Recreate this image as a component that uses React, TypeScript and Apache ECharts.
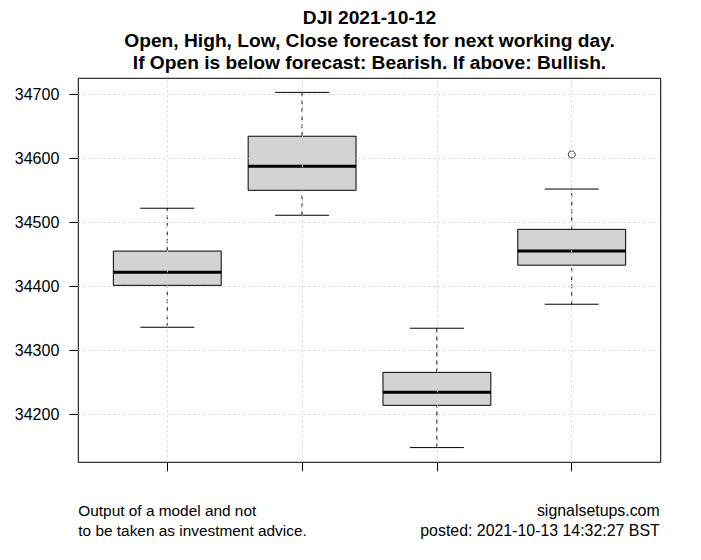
import React, { useEffect, useRef } from "react";
import * as echarts from "echarts";

// Box statistics per category
const categories = ["Open", "High", "Low", "Close"];
const lowerWhiskers = [34336, 34511, 34148, 34372];
const q1Values = [34401.5, 34550, 34214, 34433];
const medians = [34422, 34587.5, 34234.5, 34455];
const q3Values = [34455, 34634.5, 34265.5, 34489];
const upperWhiskers = [34522, 34703, 34334.5, 34552];
const outliers: [number, number][] = [[4, 34606]];
const yTicks = [34200, 34300, 34400, 34500, 34600, 34700];
const xTicks = [1, 2, 3, 4];

const titleLines = [
  "DJI 2021-10-12",
  "Open, High, Low, Close forecast for next working day.",
  "If Open is below forecast: Bearish. If above: Bullish.",
];
const footerLeft = ["Output of a model and not", "to be taken as investment advice."];
const footerRight = ["signalsetups.com", "posted: 2021-10-13 14:32:27 BST"];

const FONT = "'Liberation Sans', Arial, Helvetica, sans-serif";

export default function App() {
  const ref = useRef<HTMLDivElement>(null);
  useEffect(() => {
    if (!ref.current) return;
    const chart = echarts.init(ref.current, null, { renderer: "svg" });
    const boxData = categories.map((_, i) => [
      i + 1,
      lowerWhiskers[i],
      q1Values[i],
      medians[i],
      q3Values[i],
      upperWhiskers[i],
    ]);
    const plotLeft = 78.3;
    const plotRight = 660.7;
    const plotCenter = (plotLeft + plotRight) / 2;
    const titleYs = [17.5, 40, 62];
    const footerYs = [510.5, 530];

    const graphics: any[] = [];
    titleLines.forEach((t, i) =>
      graphics.push({
        type: "text",
        x: plotCenter,
        y: titleYs[i],
        style: {
          text: t,
          fontFamily: FONT,
          fontSize: 19.2,
          fontWeight: "bold",
          fill: "#000",
          align: "center",
          verticalAlign: "middle",
        },
      })
    );
    footerLeft.forEach((t, i) =>
      graphics.push({
        type: "text",
        x: plotLeft,
        y: footerYs[i],
        style: { text: t, fontFamily: FONT, fontSize: 15.4, fill: "#000", align: "left", verticalAlign: "middle" },
      })
    );
    footerRight.forEach((t, i) =>
      graphics.push({
        type: "text",
        x: plotRight - 1,
        y: footerYs[i],
        style: { text: t, fontFamily: FONT, fontSize: 15.9, fill: "#000", align: "right", verticalAlign: "middle" },
      })
    );

    const gridLineStyle = { color: "#D3D3D3", type: [2, 3] as any, width: 1 };

    chart.setOption({
      animation: false,
      backgroundColor: "#fff",
      grid: {
        left: plotLeft,
        right: 701 - plotRight,
        top: 78.3,
        bottom: 560 - 462.3,
        show: true,
        borderColor: "#000",
        borderWidth: 1,
        backgroundColor: "transparent",
        containLabel: false,
      },
      xAxis: {
        type: "value",
        min: 0.34,
        max: 4.66,
        axisLine: { show: false },
        axisTick: { show: true, customValues: xTicks, length: 9, lineStyle: { color: "#000" } },
        axisLabel: { show: false },
        splitLine: { show: false },
      },
      yAxis: {
        type: "value",
        min: 34125,
        max: 34725,
        axisLine: { show: false },
        axisTick: { show: true, customValues: yTicks, length: 9, lineStyle: { color: "#000" } },
        axisLabel: {
          show: true,
          customValues: yTicks,
          formatter: (v: number) => String(v),
          margin: 19,
          fontFamily: FONT,
          fontSize: 16,
          color: "#000",
        },
        splitLine: { show: false },
      },
      graphic: graphics,
      series: [
        {
          type: "scatter",
          data: [],
          z: 1,
          silent: true,
          markLine: {
            silent: true,
            symbol: ["none", "none"],
            label: { show: false },
            lineStyle: gridLineStyle,
            emphasis: { disabled: true },
            data: [
              ...yTicks.map((v) => ({ yAxis: v })),
              ...xTicks.map((v) => ({ xAxis: v })),
            ],
          },
        },
        {
          type: "custom",
          z: 2,
          data: boxData,
          encode: { x: 0, y: [1, 2, 3, 4, 5] },
          renderItem: (params: any, api: any) => {
            const pos = api.value(0);
            const lo = api.value(1);
            const q1 = api.value(2);
            const med = api.value(3);
            const q3 = api.value(4);
            const hi = api.value(5);
            const pLo = api.coord([pos, lo]);
            const pQ1 = api.coord([pos, q1]);
            const pMed = api.coord([pos, med]);
            const pQ3 = api.coord([pos, q3]);
            const pHi = api.coord([pos, hi]);
            const boxL = api.coord([pos - 0.4, q1])[0];
            const boxR = api.coord([pos + 0.4, q1])[0];
            const capL = api.coord([pos - 0.2, q1])[0];
            const capR = api.coord([pos + 0.2, q1])[0];
            const cx = pMed[0];
            const black = { stroke: "#000", lineWidth: 1 };
            return {
              type: "group",
              children: [
                {
                  type: "line",
                  shape: { x1: cx, y1: pLo[1], x2: cx, y2: pQ1[1] },
                  style: { ...black, lineDash: [4, 4] },
                },
                {
                  type: "line",
                  shape: { x1: cx, y1: pQ3[1], x2: cx, y2: pHi[1] },
                  style: { ...black, lineDash: [4, 4] },
                },
                {
                  type: "line",
                  shape: { x1: capL, y1: pLo[1], x2: capR, y2: pLo[1] },
                  style: black,
                },
                {
                  type: "line",
                  shape: { x1: capL, y1: pHi[1], x2: capR, y2: pHi[1] },
                  style: black,
                },
                {
                  type: "rect",
                  shape: { x: boxL, y: pQ3[1], width: boxR - boxL, height: pQ1[1] - pQ3[1] },
                  style: { fill: "#D3D3D3", stroke: "#000", lineWidth: 1 },
                },
                {
                  type: "line",
                  shape: { x1: boxL, y1: pMed[1], x2: boxR, y2: pMed[1] },
                  style: { stroke: "#000", lineWidth: 3 },
                },
              ],
            };
          },
        },
        {
          type: "scatter",
          z: 3,
          data: outliers,
          symbol: "circle",
          symbolSize: 7,
          itemStyle: { color: "rgba(255,255,255,0)", borderColor: "#000", borderWidth: 1 },
        },
      ],
    });
    return () => chart.dispose();
  }, []);
  return (
    <div
      ref={ref}
      style={{ position: "absolute", left: 0, top: 0, width: 701, height: 560 }}
    />
  );
}
